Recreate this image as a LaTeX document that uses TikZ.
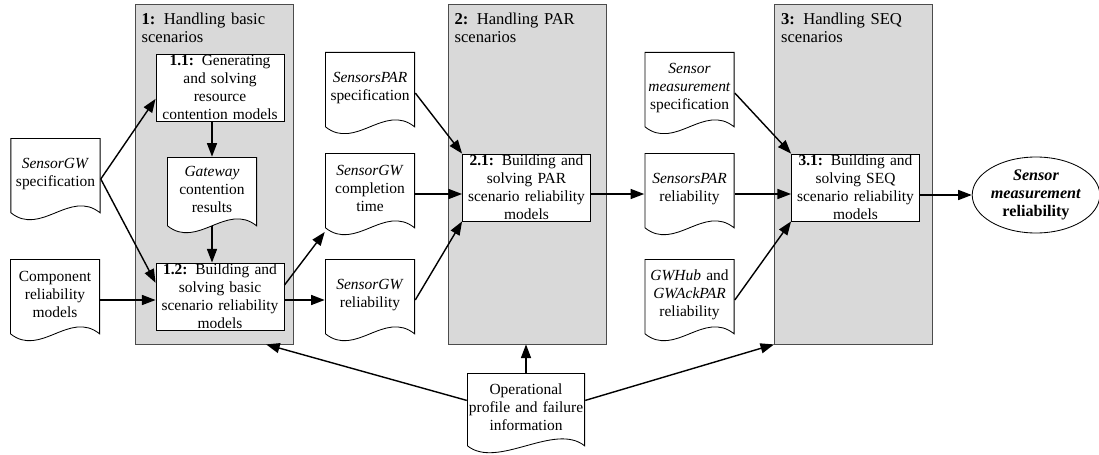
\documentclass[tikz,border=0pt]{standalone}
\usepackage{fontspec}
\setmainfont{Liberation Serif}
\usetikzlibrary{shapes.geometric, arrows.meta, positioning, calc}
\definecolor{panelgray}{RGB}{217, 217, 217}

\begin{document}
\begin{tikzpicture}[
    font=\fontsize{11}{12.8}\selectfont,
    panel/.style={rectangle, draw=black!70, line width=0.6pt, fill=panelgray, minimum width=3.95cm, minimum height=8.5cm},
    paneltitle/.style={inner sep=0pt, text width=3.7cm, align=left, font=\fontsize{11.8}{12.8}\selectfont},
    proc/.style={rectangle, draw, line width=0.6pt, fill=white, minimum width=3.2cm, minimum height=1.675cm, inner sep=0pt, text width=3.15cm, align=center},
    doc/.style={rectangle, minimum width=2.25cm, minimum height=2.05cm, inner sep=0pt, text width=2.2cm, align=center, text height=-2pt,
        path picture={
            \draw[line width=0.6pt, fill=white]
                ([shift={(0.3pt,1.8mm)}]path picture bounding box.south west)
                .. controls +(0.75,-0.6) and +(-0.75,0.6) ..
                ([shift={(-0.3pt,1.8mm)}]path picture bounding box.south east)
                -- ([shift={(-0.3pt,-0.3pt)}]path picture bounding box.north east)
                -- ([shift={(0.3pt,-0.3pt)}]path picture bounding box.north west)
                -- cycle;
        }},
    result/.style={ellipse, draw, line width=0.6pt, minimum width=3.12cm, minimum height=1.9cm, inner sep=0pt, align=center, font=\fontsize{11.5}{12.8}\selectfont\bfseries},
    flow/.style={line width=1pt, -{Triangle[length=3.4mm, width=2.5mm]}}
]
\useasboundingbox (0,0) rectangle (27.475,-11.375);

% the three stages
\node[panel] (p1) at (5.35,-4.35) {};
\node[panel] (p2) at (13.175,-4.35) {};
\node[panel] (p3) at (21.3375,-4.35) {};
\node[paneltitle, below right=0.24cm and 0.17cm of p1.north west] (t1) {\textbf{1:} Handling basic\\scenarios};
\node[paneltitle, below right=0.24cm and 0.17cm of p2.north west] (t2) {\textbf{2:} Handling PAR\\scenarios};
\node[paneltitle, below right=0.24cm and 0.17cm of p3.north west] (t3) {\textbf{3:} Handling SEQ\\scenarios};

% activities
\node[proc] (b11) at (5.5,-2.1875) {\textbf{1.1:} Generating\\and solving\\resource\\contention models};
\node[proc] (b12) at (5.5,-7.4125) {\textbf{1.2:} Building and\\solving basic\\scenario reliability\\models};
\node[proc] (b21) at (13.1625,-4.6875) {\textbf{2.1:} Building and\\solving PAR\\scenario reliability\\models};
\node[proc] (b31) at (21.3875,-4.6875) {\textbf{3.1:} Building and\\solving SEQ\\scenario reliability\\models};

% inputs and intermediate results
\node[doc] (gwspec) at (1.3875,-4.475) {\textit{SensorGW}\\specification};
\node[doc] (comprel) at (1.375,-7.5) {Component\\reliability\\models};
\node[doc, minimum height=1.9cm] (gwcont) at (5.3,-4.875) {\textit{Gateway}\\contention\\results};
\node[doc] (sparspec) at (9.25,-2.325) {\textit{SensorsPAR}\\specification};
\node[doc] (gwtime) at (9.25,-4.85) {\textit{SensorGW}\\completion\\time};
\node[doc] (gwrel) at (9.25,-7.5) {\textit{SensorGW}\\reliability};
\node[doc] (smspec) at (17.2375,-2.325) {\textit{Sensor}\\\textit{measurement}\\specification};
\node[doc] (sparrel) at (17.2375,-4.85) {\textit{SensorsPAR}\\reliability};
\node[doc] (hubrel) at (17.2375,-7.5) {\textit{GWHub} and\\\textit{GWAckPAR}\\reliability};
\node[doc, minimum width=2.95cm, minimum height=2cm, text width=2.9cm] (opprof) at (13.15,-10.325) {Operational\\profile and failure\\information};
\node[result] (res) at (25.9,-4.875) {\textit{Sensor}\\\textit{measurement}\\reliability};

% stage 1
\draw[flow] (gwspec.east) -- (b11.190);
\draw[flow] (gwspec.east) -- (b12.168);
\draw[flow] (b11.south -| gwcont.north) -- (gwcont.north);
\draw[flow] ([yshift=1.8mm]gwcont.south) -- (gwcont.south |- b12.north);
\draw[flow] (comprel.east) -- (comprel.east -| b12.west);
\draw[flow] (b12.10) -- (gwtime.220);
\draw[flow] (b12.east |- gwrel.west) -- (gwrel.west);

% stage 2
\draw[flow] (sparspec.east) -- (b21.north west);
\draw[flow] (gwtime.east) -- (gwtime.east -| b21.west);
\draw[flow] (gwrel.east) -- (b21.south west);
\draw[flow] (b21.east |- sparrel.west) -- (sparrel.west);

% stage 3
\draw[flow] (smspec.east) -- (b31.north west);
\draw[flow] (sparrel.east) -- (sparrel.east -| b31.west);
\draw[flow] (hubrel.east) -- (b31.south west);
\draw[flow] (b31.east |- res.west) -- (res.west);

% operational profile feeds every stage
\draw[flow] (opprof.north) -- (opprof.north |- p2.south);
\draw[flow] (opprof.168) -- (p1.-73);
\draw[flow] (opprof.12) -- (p3.south west);
\end{tikzpicture}
\end{document}
